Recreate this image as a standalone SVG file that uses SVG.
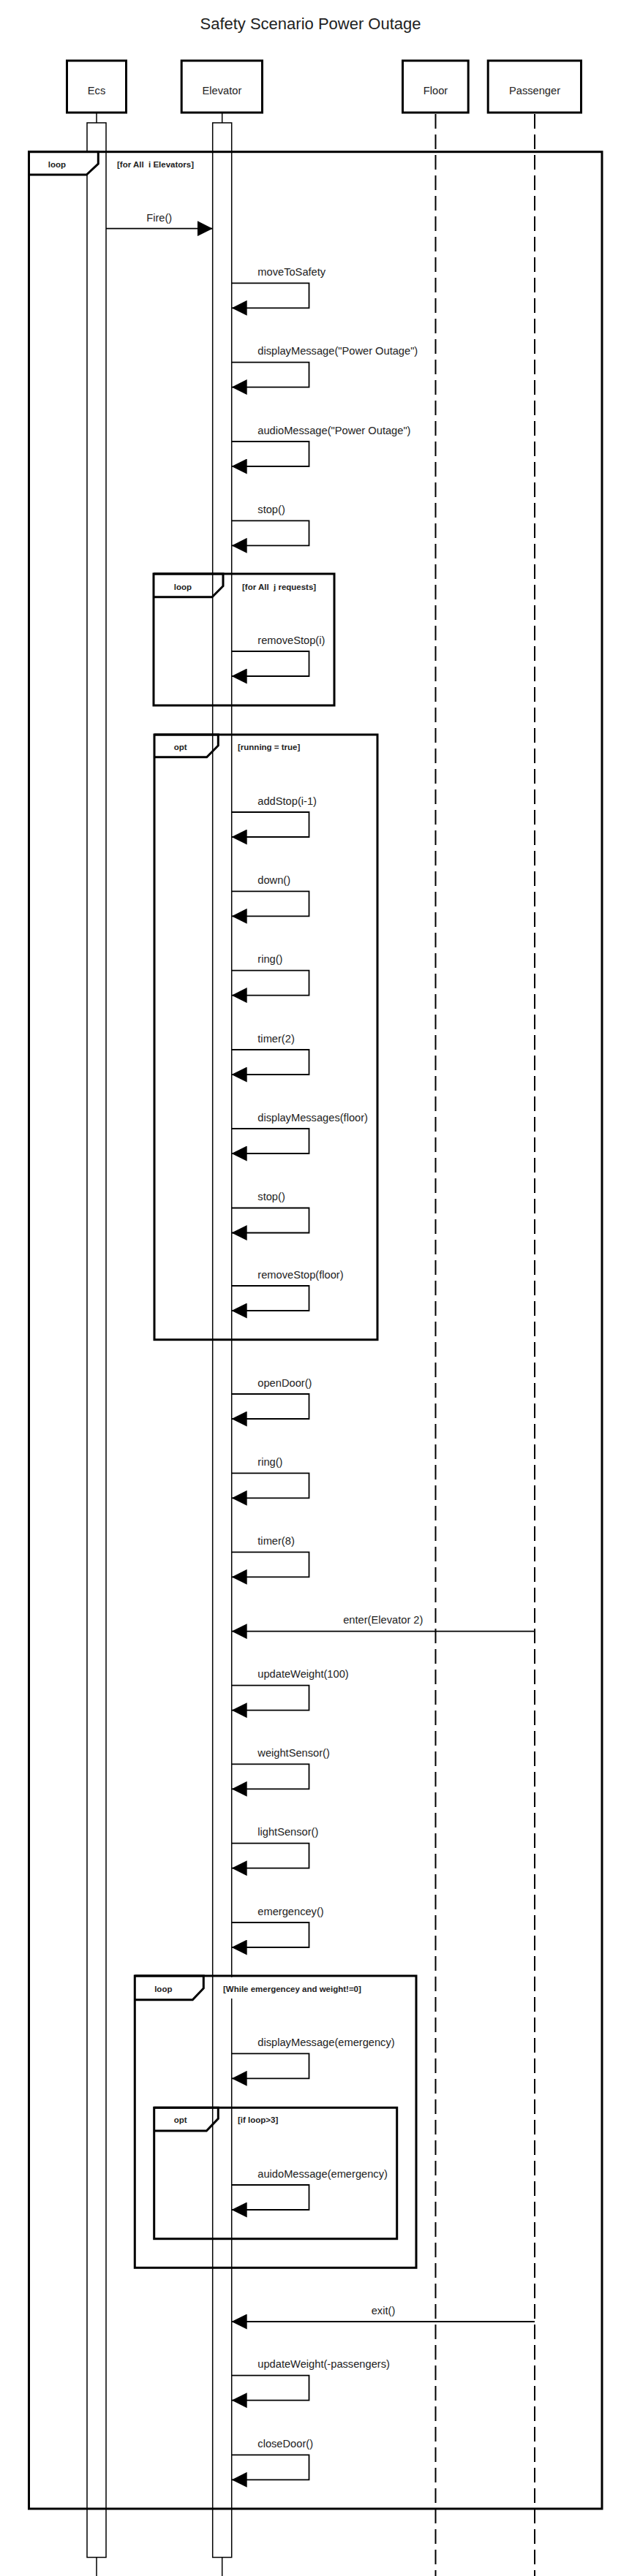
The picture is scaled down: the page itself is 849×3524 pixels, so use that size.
<svg xmlns="http://www.w3.org/2000/svg" width="849" height="3524" viewBox="0 0 849 3524">
<style>
text{font-family:"Liberation Sans",Arial,sans-serif;fill:#222;white-space:pre}
.title{font-size:22px;text-anchor:middle}
.name{font-size:14.67px;text-anchor:middle}
.msg{font-size:14.67px}
.mid{text-anchor:middle}
.op{font-size:11.5px;font-weight:bold;text-anchor:middle}
.cond{font-size:11.5px;font-weight:bold}
.box{fill:#fff;stroke:#000;stroke-width:3}
.act{fill:none;stroke:#000;stroke-width:1.5}
.life{stroke:#000;stroke-width:1.5}
.dash{stroke:#000;stroke-width:2;stroke-dasharray:20 8}
.frame{fill:none;stroke:#000;stroke-width:3}
.tab{fill:#fff;stroke:#000;stroke-width:3}
.tabn{fill:none;stroke:#000;stroke-width:3}
.m{fill:none;stroke:#000;stroke-width:1.8;marker-end:url(#arr)}
</style>
<defs>
<marker id="arr" viewBox="0 0 21 21" refX="21" refY="10.5" markerWidth="21" markerHeight="21" markerUnits="userSpaceOnUse" orient="auto">
<path d="M0,0 L21,10.5 L0,21 Z" fill="#000"/>
</marker>
</defs>
<rect width="849" height="3524" fill="#fff"/>
<text class="title" x="424.5" y="40">Safety Scenario Power Outage</text>

<g id="Ecs">
<rect class="box" x="91.5" y="83" width="81" height="71"/>
<text class="name" x="132" y="129">Ecs</text>
<line class="life" x1="132" y1="154.5" x2="132" y2="168"/>
<rect class="act" x="119" y="168" width="26" height="3330.5"/>
<line class="life" x1="132" y1="3498.5" x2="132" y2="3524"/>
</g>
<g id="Elevator">
<rect class="box" x="248.2" y="83" width="110.3" height="71"/>
<text class="name" x="303.4" y="129">Elevator</text>
<line class="life" x1="303.7" y1="154.5" x2="303.7" y2="168"/>
<rect class="act" x="290.7" y="168" width="26" height="3330.5"/>
<line class="life" x1="303.7" y1="3498.5" x2="303.7" y2="3524"/>
</g>
<g id="Floor">
<rect class="box" x="550.5" y="83" width="89.7" height="71"/>
<text class="name" x="595.5" y="129">Floor</text>
<line class="dash" x1="595.5" y1="156" x2="595.5" y2="3524"/>
</g>
<g id="Passenger">
<rect class="box" x="667.2" y="83" width="127.3" height="71"/>
<text class="name" x="731" y="129">Passenger</text>
<line class="dash" x1="731" y1="156" x2="731" y2="3524"/>
</g>

<g id="frame-loop-elevators">
<rect class="frame" x="39.5" y="207.7" width="783.5" height="3224.3"/>
<path class="tab" d="M39.5,207.7 H134.3 V224 L118.3,239 H39.5 Z"/>
<text class="op" x="78" y="229">loop</text>
<text class="cond" x="160" y="229">[for All  i Elevators]</text>
</g>
<g id="frame-loop-requests">
<rect class="frame" x="210" y="785" width="247" height="180"/>
<path class="tabn" d="M210,785 H305 V801.7 L290,816.7 H210"/>
<text class="op" x="250" y="806.7">loop</text>
<text class="cond" x="331" y="806.7">[for All  j requests]</text>
</g>
<g id="frame-opt-running">
<rect class="frame" x="211" y="1005" width="305" height="827.7"/>
<path class="tabn" d="M211,1005 H298.3 V1020 L282.7,1035.7 H211"/>
<text class="op" x="246.7" y="1026">opt</text>
<text class="cond" x="325" y="1026">[running = true]</text>
</g>
<g id="frame-loop-while">
<rect class="frame" x="184.3" y="2703" width="384.7" height="399.3"/>
<path class="tabn" d="M184.3,2703 H278.3 V2720 L263.3,2735.7 H184.3"/>
<rect x="303" y="2705" width="196" height="29" fill="#fff"/>
<text class="op" x="223.3" y="2725">loop</text>
<text class="cond" x="305" y="2725">[While emergencey and weight!=0]</text>
</g>
<g id="frame-opt-loop3">
<rect class="frame" x="210.7" y="2883.3" width="332" height="179.4"/>
<path class="tabn" d="M210.7,2883.3 H298.3 V2898.3 L282.3,2915 H210.7"/>
<text class="op" x="246.7" y="2904">opt</text>
<text class="cond" x="325" y="2904">[if loop&gt;3]</text>
</g>

<g id="connectors">
<path class="m" d="M145,312.7 H290.7"/>
<text class="msg mid" x="217.7" y="303">Fire()</text>

<path class="m" d="M316.7,387.3 H422.5 V421.3 H316.7"/>
<text class="msg" x="352.3" y="376.8">moveToSafety</text>
<path class="m" d="M316.7,495.6 H422.5 V529.6 H316.7"/>
<text class="msg" x="352.3" y="485.1">displayMessage("Power Outage")</text>
<path class="m" d="M316.7,604 H422.5 V638 H316.7"/>
<text class="msg" x="352.3" y="593.5">audioMessage("Power Outage")</text>
<path class="m" d="M316.7,712.3 H422.5 V746.3 H316.7"/>
<text class="msg" x="352.3" y="701.8">stop()</text>
<path class="m" d="M316.7,891 H422.5 V925 H316.7"/>
<text class="msg" x="352.3" y="880.5">removeStop(i)</text>
<path class="m" d="M316.7,1111 H422.5 V1145 H316.7"/>
<text class="msg" x="352.3" y="1100.5">addStop(i-1)</text>
<path class="m" d="M316.7,1219.3 H422.5 V1253.3 H316.7"/>
<text class="msg" x="352.3" y="1208.8">down()</text>
<path class="m" d="M316.7,1327.6 H422.5 V1361.6 H316.7"/>
<text class="msg" x="352.3" y="1317.1">ring()</text>
<path class="m" d="M316.7,1436 H422.5 V1470 H316.7"/>
<text class="msg" x="352.3" y="1425.5">timer(2)</text>
<path class="m" d="M316.7,1544 H422.5 V1578 H316.7"/>
<text class="msg" x="352.3" y="1533.5">displayMessages(floor)</text>
<path class="m" d="M316.7,1652.5 H422.5 V1686.5 H316.7"/>
<text class="msg" x="352.3" y="1642">stop()</text>
<path class="m" d="M316.7,1759 H422.5 V1793 H316.7"/>
<text class="msg" x="352.3" y="1748.5">removeStop(floor)</text>
<path class="m" d="M316.7,1907 H422.5 V1941 H316.7"/>
<text class="msg" x="352.3" y="1896.5">openDoor()</text>
<path class="m" d="M316.7,2015.3 H422.5 V2049.3 H316.7"/>
<text class="msg" x="352.3" y="2004.8">ring()</text>
<path class="m" d="M316.7,2123.3 H422.5 V2157.3 H316.7"/>
<text class="msg" x="352.3" y="2112.8">timer(8)</text>

<path class="m" d="M731,2231.7 H316.7"/>
<text class="msg mid" x="523.8" y="2220.7">enter(Elevator 2)</text>

<path class="m" d="M316.7,2305.7 H422.5 V2339.7 H316.7"/>
<text class="msg" x="352.3" y="2295.2">updateWeight(100)</text>
<path class="m" d="M316.7,2413.3 H422.5 V2447.3 H316.7"/>
<text class="msg" x="352.3" y="2402.8">weightSensor()</text>
<path class="m" d="M316.7,2521.7 H422.5 V2555.7 H316.7"/>
<text class="msg" x="352.3" y="2511.2">lightSensor()</text>
<path class="m" d="M316.7,2630 H422.5 V2664 H316.7"/>
<text class="msg" x="352.3" y="2619.5">emergencey()</text>
<path class="m" d="M316.7,2809.3 H422.5 V2843.3 H316.7"/>
<text class="msg" x="352.3" y="2798.8">displayMessage(emergency)</text>
<path class="m" d="M316.7,2989 H422.5 V3023 H316.7"/>
<text class="msg" x="352.3" y="2978.5">auidoMessage(emergency)</text>

<path class="m" d="M731,3176 H316.7"/>
<text class="msg mid" x="524" y="3166">exit()</text>

<path class="m" d="M316.7,3249.7 H422.5 V3283.7 H316.7"/>
<text class="msg" x="352.3" y="3239.2">updateWeight(-passengers)</text>
<path class="m" d="M316.7,3358.3 H422.5 V3392.3 H316.7"/>
<text class="msg" x="352.3" y="3347.8">closeDoor()</text>
</g>
</svg>
